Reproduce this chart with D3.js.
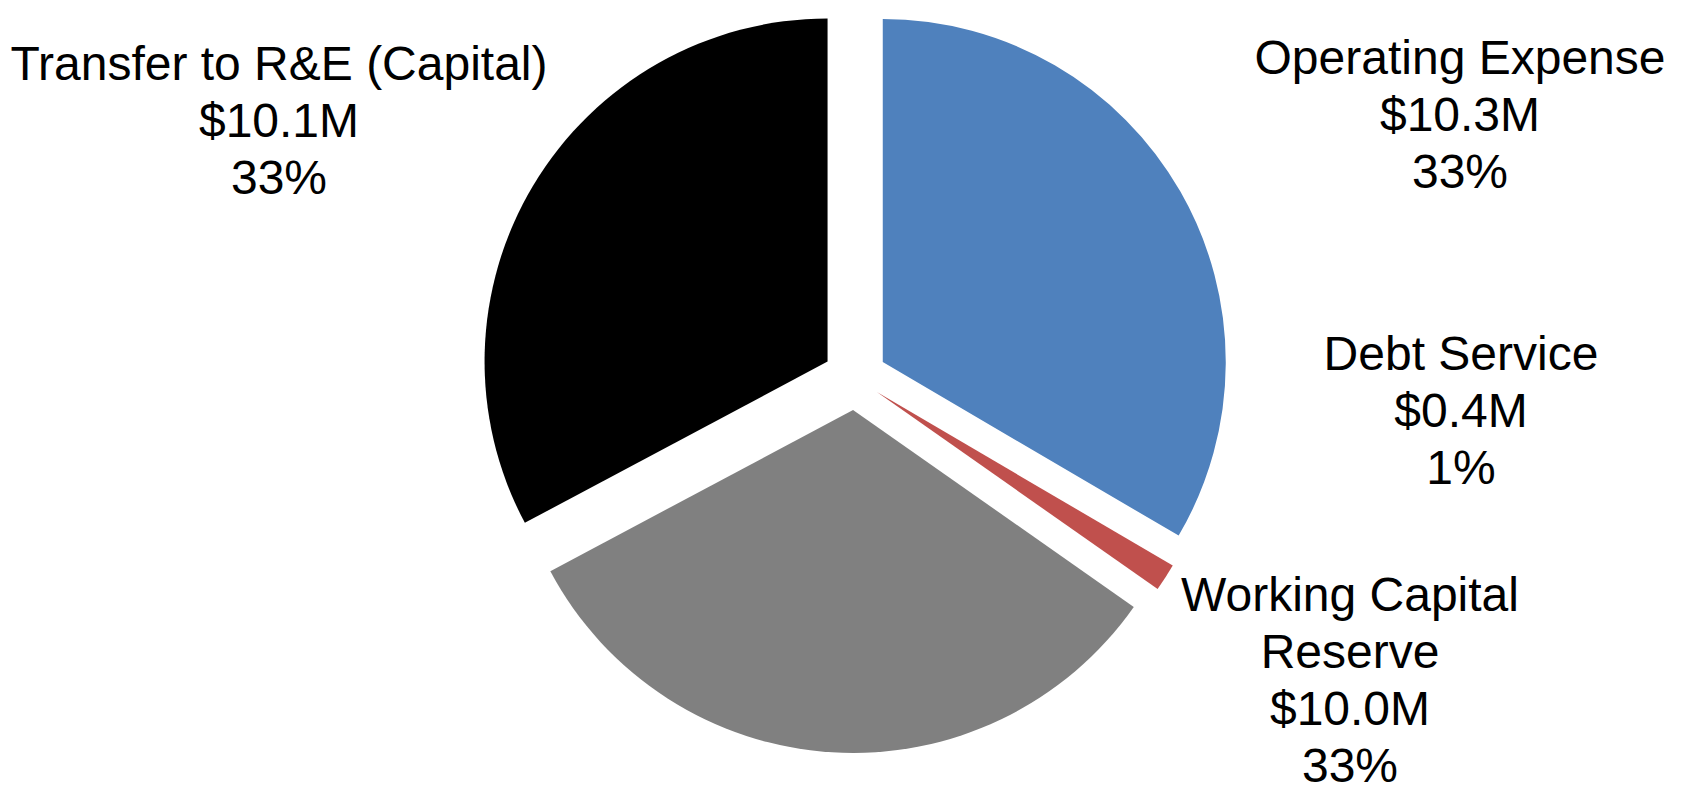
<!DOCTYPE html>
<html>
<head>
<meta charset="utf-8">
<script src="https://cdn.jsdelivr.net/npm/d3@7"></script>
<style>
  html, body { margin: 0; padding: 0; background: #ffffff; }
  svg { display: block; }
</style>
</head>
<body>
<svg id="chart" width="1685" height="793"></svg>
<script>
// Budget allocation, $ millions
const categories = ["Operating Expense", "Debt Service", "Working Capital Reserve", "Transfer to R&E (Capital)"];
const amounts = [10.3, 0.4, 10.0, 10.1];
const sliceColors = ["#4F81BD", "#C0504D", "#808080", "#000000"];
// How each category name wraps in its label
const nameLines = [["Operating Expense"], ["Debt Service"], ["Working Capital", "Reserve"], ["Transfer to R&E (Capital)"]];

// Layout
const width = 1685, height = 793;
const center = [855, 378];
const radius = 343;
const explodeBy = [32, 26, 32, 32];            // pull-out distance per slice
const labelPos = [[1460, 74], [1461, 370], [1350, 611], [279, 80]]; // first baseline, centred
const lineHeight = 57;
const fontSize = 48;

const svg = d3.select("#chart");

const total = d3.sum(amounts);

// Whole-number shares that add up to 100 (largest remainder)
function wholePercents(vals) {
  const raw = vals.map(v => v / d3.sum(vals) * 100);
  const out = raw.map(Math.floor);
  let left = 100 - d3.sum(out);
  const order = d3.range(vals.length).sort((a, b) => (raw[b] - out[b]) - (raw[a] - out[a]));
  for (let k = 0; k < left; k++) out[order[k]] += 1;
  return out;
}
const shares = wholePercents(amounts);

const data = categories.map((c, i) => ({ name: c, value: amounts[i], share: shares[i], color: sliceColors[i], lines: nameLines[i], i }));

const pie = d3.pie().value(d => d.value).sort(null).startAngle(0).endAngle(2 * Math.PI);
const arc = d3.arc().innerRadius(0).outerRadius(radius);

const arcs = pie(data);

const g = svg.append("g").attr("transform", `translate(${center[0]},${center[1]})`);

g.selectAll("path.slice")
  .data(arcs)
  .join("path")
  .attr("class", "slice")
  .attr("fill", d => d.data.color)
  .attr("d", arc)
  .attr("transform", d => {
    const mid = (d.startAngle + d.endAngle) / 2;
    const k = explodeBy[d.data.i];
    return `translate(${Math.sin(mid) * k},${-Math.cos(mid) * k})`;
  });

const fmtMoney = v => "$" + d3.format(".1f")(v) + "M";

const labels = svg.selectAll("text.label")
  .data(data)
  .join("text")
  .attr("class", "label")
  .attr("text-anchor", "middle")
  .attr("font-family", "'Liberation Sans', Arial, sans-serif")
  .attr("font-size", fontSize)
  .attr("fill", "#000000")
  .attr("x", d => labelPos[d.i][0])
  .attr("y", d => labelPos[d.i][1]);

labels.each(function(d) {
  const lines = d.lines.concat([fmtMoney(d.value), d.share + "%"]);
  d3.select(this).selectAll("tspan")
    .data(lines)
    .join("tspan")
    .attr("x", labelPos[d.i][0])
    .attr("dy", (t, j) => j === 0 ? 0 : lineHeight)
    .text(t => t);
});
</script>
</body>
</html>
